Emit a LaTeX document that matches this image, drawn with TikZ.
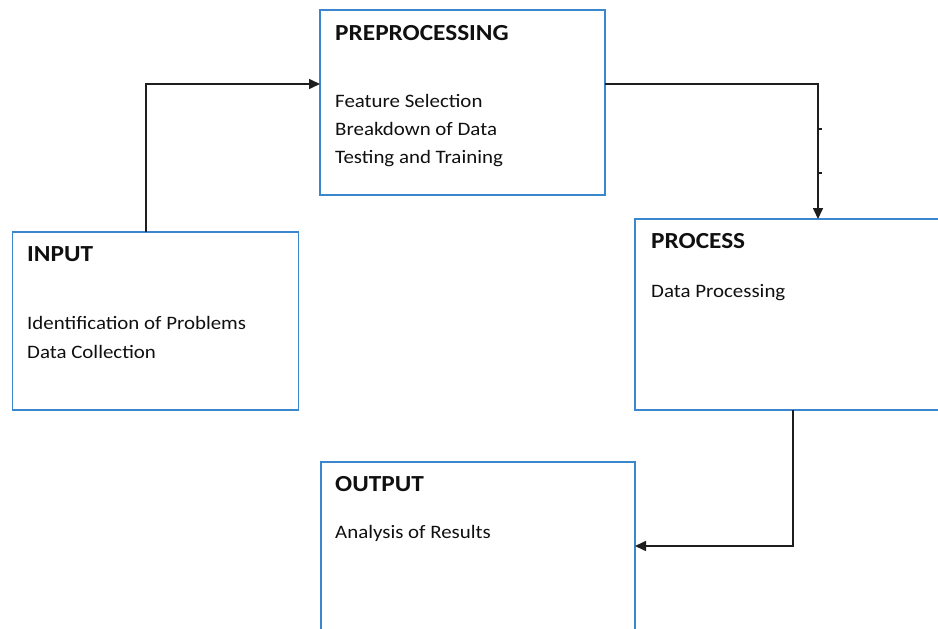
\documentclass[tikz,border=0pt]{standalone}
\usepackage{fontspec}
\setmainfont{Carlito}[FakeStretch=1.1]
\usetikzlibrary{arrows.meta,calc}
\definecolor{boxblue}{HTML}{3A87D0}
\definecolor{ink}{HTML}{101010}
\definecolor{wire}{HTML}{1E1E1E}
\begin{document}
\begin{tikzpicture}[x=1pt,y=-1pt,
  box/.style={draw=boxblue,line width=1.8pt,rectangle,inner sep=0pt,outer sep=0pt,anchor=north west},
  title/.style={anchor=base west,inner sep=0pt,text=ink,font=\fontsize{23}{27}\selectfont\bfseries},
  body/.style={anchor=base west,inner sep=0pt,text=ink,font=\fontsize{19}{23}\selectfont},
  arr/.style={draw=wire,line width=1.6pt,-{Triangle[length=11pt,width=10pt]}},
  tick/.style={draw=wire,line width=1.6pt}]
\useasboundingbox (0,0) rectangle (938,629);

% boxes
\node[box,minimum width=285pt,minimum height=185pt] (pre) at (320,10) {};
\node[box,minimum width=286pt,minimum height=178pt] (inp) at (12.5,232) {};
\node[box,minimum width=315pt,minimum height=191pt] (proc) at (635,219) {};
\node[box,minimum width=314pt,minimum height=180pt] (out) at (321,462) {};

% PREPROCESSING
\node[title] (preT) at (335,40) {PREPROCESSING};
\node[body] (preA) at (335,107) {Feature Selection};
\node[body] (preB) at (335,135.5) {Breakdown of Data};
\node[body] (preC) at (335,163) {Testing and Training};

% INPUT
\node[title] (inpT) at (27,261) {INPUT};
\node[body] (inpA) at (27,329) {Identification of Problems};
\node[body] (inpB) at (27,358) {Data Collection};

% PROCESS
\node[title] (procT) at (651,248) {PROCESS};
\node[body] (procA) at (651,297) {Data Processing};

% OUTPUT
\node[title] (outT) at (335,491) {OUTPUT};
\node[body] (outA) at (335,538) {Analysis of Results};

% connectors
\draw[arr] ($(inp.north west)+(133.5,0)$) |- ($(pre.north west)+(0,74)$);
\draw[arr] ($(pre.north east)+(0,74)$) -| ($(proc.north west)+(183,0)$);
\draw[arr] ($(proc.south west)+(158,0)$) |- ($(out.north east)+(0,84)$);

% small stubs on the right-hand vertical run
\coordinate (s1) at (818,129);
\coordinate (s2) at (818,173);
\draw[tick] (s1) -- ++(4,0);
\draw[tick] (s2) -- ++(4,0);
\end{tikzpicture}
\end{document}
